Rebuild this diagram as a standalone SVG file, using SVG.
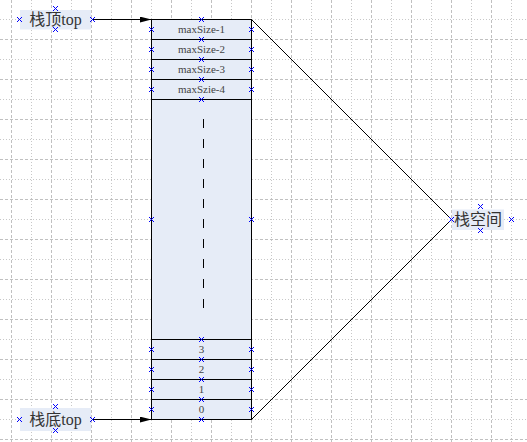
<svg xmlns="http://www.w3.org/2000/svg" xmlns:xlink="http://www.w3.org/1999/xlink" width="527" height="442" viewBox="0 0 527 442">
<style>
.gd{stroke:#c0c0c0;stroke-width:1;stroke-dasharray:3 2;fill:none}
.gt{stroke:#c8c8c8;stroke-width:1;stroke-dasharray:1 2;fill:none}
.box{fill:#e6ecf7;stroke:none}
.cell{fill:#e6ecf7;stroke:#000;stroke-width:1}
.lbl{font-family:"Liberation Serif","Noto Sans CJK SC",serif;font-size:16px;fill:#333;text-anchor:middle}
.cap{font-family:"Liberation Serif",serif;font-size:11px;fill:#444;text-anchor:middle}
.ln{stroke:#000;stroke-width:1;fill:none}
.cx{stroke:#0000ff;stroke-width:1;fill:none;shape-rendering:crispEdges}
</style>
<defs>
<path id="x" class="cx" d="M-2.5,-2.5L2.5,2.5M-2.5,2.5L2.5,-2.5"/>
<marker id="ah" viewBox="0 0 12 6" refX="12" refY="3" markerWidth="12" markerHeight="6" markerUnits="userSpaceOnUse" orient="auto">
<path d="M0,0L12,3L0,6Z" fill="#000"/>
</marker>
</defs>
<rect width="527" height="442" fill="#fff"/>
<g id="grid">
<path class="gt" d="M0,19.5H527M0,59.5H527M0,99.5H527M0,139.5H527M0,179.5H527M0,219.5H527M0,259.5H527M0,299.5H527M0,339.5H527M0,379.5H527M0,419.5H527"/>
<path class="gd" d="M0,39.5H527M0,79.5H527M0,119.5H527M0,159.5H527M0,199.5H527M0,239.5H527M0,279.5H527M0,319.5H527M0,359.5H527M0,399.5H527M0,439.5H527"/>
<path class="gd" d="M11.5,0V442M51.5,0V442M91.5,0V442M131.5,0V442M171.5,0V442M211.5,0V442M251.5,0V442M291.5,0V442M331.5,0V442M371.5,0V442M411.5,0V442M451.5,0V442M491.5,0V442"/>
<path class="gt" d="M31.5,0V442M71.5,0V442M111.5,0V442M151.5,0V442M191.5,0V442M231.5,0V442M271.5,0V442M311.5,0V442M351.5,0V442M391.5,0V442M431.5,0V442M471.5,0V442M511.5,0V442"/>
</g>
<g id="connectors">
<line class="ln" x1="92" y1="19.5" x2="151.5" y2="19.5" marker-end="url(#ah)"/>
<line class="ln" x1="92" y1="419.5" x2="151.5" y2="419.5" marker-end="url(#ah)"/>
<line class="ln" x1="251.5" y1="19.5" x2="451.5" y2="219.5"/>
<line class="ln" x1="251.5" y1="419.5" x2="451.5" y2="219.5"/>
</g>
<g id="stack">
<rect class="cell" x="151.5" y="19.5" width="100" height="20"/>
<rect class="cell" x="151.5" y="39.5" width="100" height="20"/>
<rect class="cell" x="151.5" y="59.5" width="100" height="20"/>
<rect class="cell" x="151.5" y="79.5" width="100" height="20"/>
<rect class="cell" x="151.5" y="99.5" width="100" height="240"/>
<rect class="cell" x="151.5" y="339.5" width="100" height="20"/>
<rect class="cell" x="151.5" y="359.5" width="100" height="20"/>
<rect class="cell" x="151.5" y="379.5" width="100" height="20"/>
<rect class="cell" x="151.5" y="399.5" width="100" height="20"/>
<line class="ln" x1="203.5" y1="119" x2="203.5" y2="311" stroke-dasharray="9 11"/>
<text class="cap" x="201.5" y="33">maxSize-1</text>
<text class="cap" x="201.5" y="53">maxSize-2</text>
<text class="cap" x="201.5" y="73">maxSize-3</text>
<text class="cap" x="201.5" y="93">maxSzie-4</text>
<text class="cap" x="201.5" y="353">3</text>
<text class="cap" x="201.5" y="373">2</text>
<text class="cap" x="201.5" y="393">1</text>
<text class="cap" x="201.5" y="413">0</text>
<g id="stack-points">
<use xlink:href="#x" x="201.5" y="19.5"/><use xlink:href="#x" x="201.5" y="39.5"/><use xlink:href="#x" x="201.5" y="59.5"/><use xlink:href="#x" x="201.5" y="79.5"/><use xlink:href="#x" x="201.5" y="99.5"/>
<use xlink:href="#x" x="201.5" y="339.5"/><use xlink:href="#x" x="201.5" y="359.5"/><use xlink:href="#x" x="201.5" y="379.5"/><use xlink:href="#x" x="201.5" y="399.5"/><use xlink:href="#x" x="201.5" y="419.5"/>
<use xlink:href="#x" x="151.5" y="29.5"/><use xlink:href="#x" x="151.5" y="49.5"/><use xlink:href="#x" x="151.5" y="69.5"/><use xlink:href="#x" x="151.5" y="89.5"/><use xlink:href="#x" x="151.5" y="219.5"/>
<use xlink:href="#x" x="151.5" y="349.5"/><use xlink:href="#x" x="151.5" y="369.5"/><use xlink:href="#x" x="151.5" y="389.5"/><use xlink:href="#x" x="151.5" y="409.5"/>
<use xlink:href="#x" x="251.5" y="29.5"/><use xlink:href="#x" x="251.5" y="49.5"/><use xlink:href="#x" x="251.5" y="69.5"/><use xlink:href="#x" x="251.5" y="89.5"/><use xlink:href="#x" x="251.5" y="219.5"/>
<use xlink:href="#x" x="251.5" y="349.5"/><use xlink:href="#x" x="251.5" y="369.5"/><use xlink:href="#x" x="251.5" y="389.5"/><use xlink:href="#x" x="251.5" y="409.5"/>
</g>
</g>
<g id="top-label">
<rect class="box" x="20" y="10" width="71" height="19.5"/>
<text class="lbl" x="55.5" y="25">栈顶top</text>
<use xlink:href="#x" x="19.5" y="19.5"/><use xlink:href="#x" x="92.5" y="19.5"/><use xlink:href="#x" x="55.5" y="8.5"/><use xlink:href="#x" x="55.5" y="29.5"/>
</g>
<g id="bottom-label">
<rect class="box" x="20" y="408" width="71" height="23"/>
<text class="lbl" x="55.5" y="425">栈底top</text>
<use xlink:href="#x" x="19.5" y="419.5"/><use xlink:href="#x" x="92.5" y="419.5"/><use xlink:href="#x" x="55.5" y="406.5"/><use xlink:href="#x" x="55.5" y="430.5"/>
</g>
<g id="space-label">
<rect class="box" x="452" y="209.5" width="52" height="20.5"/>
<text class="lbl" x="478" y="225">栈空间</text>
<use xlink:href="#x" x="451.5" y="219.5"/><use xlink:href="#x" x="511.5" y="219.5"/><use xlink:href="#x" x="480.5" y="206.5"/><use xlink:href="#x" x="480.5" y="230.5"/>
</g>
</svg>
